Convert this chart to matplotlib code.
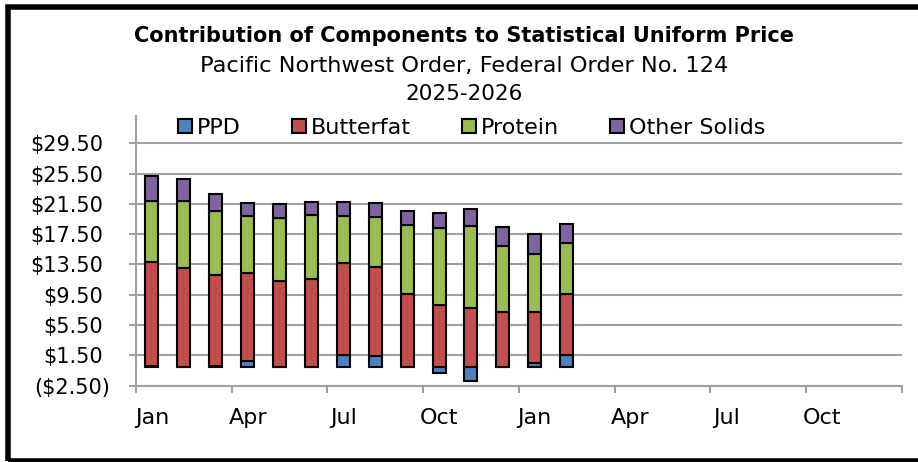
import matplotlib.pyplot as plt
from matplotlib.patches import Rectangle
from matplotlib.transforms import ScaledTranslation

# Jan 2025 - Feb 2026, $/cwt
months = ['Jan', 'Feb', 'Mar', 'Apr', 'May', 'Jun', 'Jul', 'Aug', 'Sep', 'Oct', 'Nov', 'Dec', 'Jan', 'Feb']
ppd = [0.1, -0.05, 0.15, 0.71, -0.08, 0.0, 1.5, 1.37, 0.0, -0.8, -1.83, 0.0, 0.55, 1.5]
butterfat = [13.67, 13.07, 11.91, 11.7, 11.36, 11.62, 12.14, 11.83, 9.6, 8.19, 7.8, 7.27, 6.63, 8.05]
protein = [8.14, 8.84, 8.53, 7.43, 8.27, 8.35, 6.25, 6.56, 9.06, 10.16, 10.81, 8.71, 7.65, 6.73]
other_solids = [3.21, 2.91, 2.16, 1.81, 1.89, 1.77, 1.85, 1.89, 1.84, 1.94, 2.25, 2.5, 2.64, 2.6]

series = [('PPD', ppd, '#4F81BD'),
          ('Butterfat', butterfat, '#C0504D'),
          ('Protein', protein, '#9BBB59'),
          ('Other Solids', other_solids, '#8064A2')]

n_axis_months = 24  # axis runs Jan 2025 - Dec 2026
quarter_labels = ['Jan', 'Apr', 'Jul', 'Oct', 'Jan', 'Apr', 'Jul', 'Oct']
y_ticks = [-2.5, 1.5, 5.5, 9.5, 13.5, 17.5, 21.5, 25.5, 29.5]

grid_col = '#A0A0A0'
plt.rcParams['font.family'] = ['DejaVu Sans']

fig = plt.figure(figsize=(9.18, 4.62), dpi=100)
ax = fig.add_axes([136 / 918, 1 - 385.7 / 462, (901.6 - 136) / 918, (385.7 - 116) / 462])

x = list(range(len(months)))
pos = [0.0] * len(months)
neg = [0.0] * len(months)
for name, vals, col in series:
    bottoms = []
    for i, v in enumerate(vals):
        if v >= 0:
            bottoms.append(pos[i])
            pos[i] += v
        else:
            bottoms.append(neg[i])
            neg[i] += v
    ax.bar(x, vals, bottom=bottoms, width=0.41, color=col, edgecolor='black',
           linewidth=1.5, label=name, zorder=3)

ax.set_xlim(-0.5, n_axis_months - 0.5)
ax.set_ylim(-2.5, 33.1)

ax.set_yticks(y_ticks)
ax.set_yticklabels([f'${v:.2f}' if v >= 0 else f'(${-v:.2f})' for v in y_ticks])
ax.yaxis.grid(True, color=grid_col, linewidth=1.5, zorder=0)
ax.tick_params(axis='y', direction='out', length=5.4, width=1.5, color=grid_col,
               labelsize=15, pad=13.5)
# accounting format: positive numbers leave room for the closing bracket
for lab, v in zip(ax.get_yticklabels(), y_ticks):
    if v >= 0:
        lab.set_transform(lab.get_transform() + ScaledTranslation(-7 / 100, 0, fig.dpi_scale_trans))

ax.set_xticks([q - 0.5 for q in range(0, n_axis_months + 1, 3)])
ax.set_xticklabels([])
ax.set_xticks(list(range(0, n_axis_months, 3)), minor=True)
ax.set_xticklabels(quarter_labels, minor=True)
ax.tick_params(axis='x', which='major', direction='out', length=5, width=1.5, color=grid_col)
ax.tick_params(axis='x', which='minor', length=0, labelsize=16, pad=16)

for s in ['top', 'right']:
    ax.spines[s].set_visible(False)
for s in ['left', 'bottom']:
    ax.spines[s].set_color(grid_col)
    ax.spines[s].set_linewidth(1.5)

leg = ax.legend(loc='center', bbox_to_anchor=(0.439, 0.955), ncol=4, frameon=False,
                fontsize=16, handlelength=0.6, handleheight=0.6, handletextpad=0.25,
                columnspacing=2.3, borderaxespad=0)

fig.text(0.5055, 1 - 42 / 462, 'Contribution of Components to Statistical Uniform Price',
         ha='center', va='baseline', fontsize=15, fontweight='bold')
fig.text(0.5055, 1 - 72 / 462, 'Pacific Northwest Order, Federal Order No. 124',
         ha='center', va='baseline', fontsize=16.2)
fig.text(0.5055, 1 - 100.3 / 462, '2025-2026', ha='center', va='baseline', fontsize=15.5)

# chart frame
fig.patches.append(Rectangle((8 / 918, 1 - 461 / 462), 922 / 918, 454 / 462, fill=False,
                             edgecolor='black', linewidth=4, transform=fig.transFigure))

fig.savefig('out.png', dpi=100)
